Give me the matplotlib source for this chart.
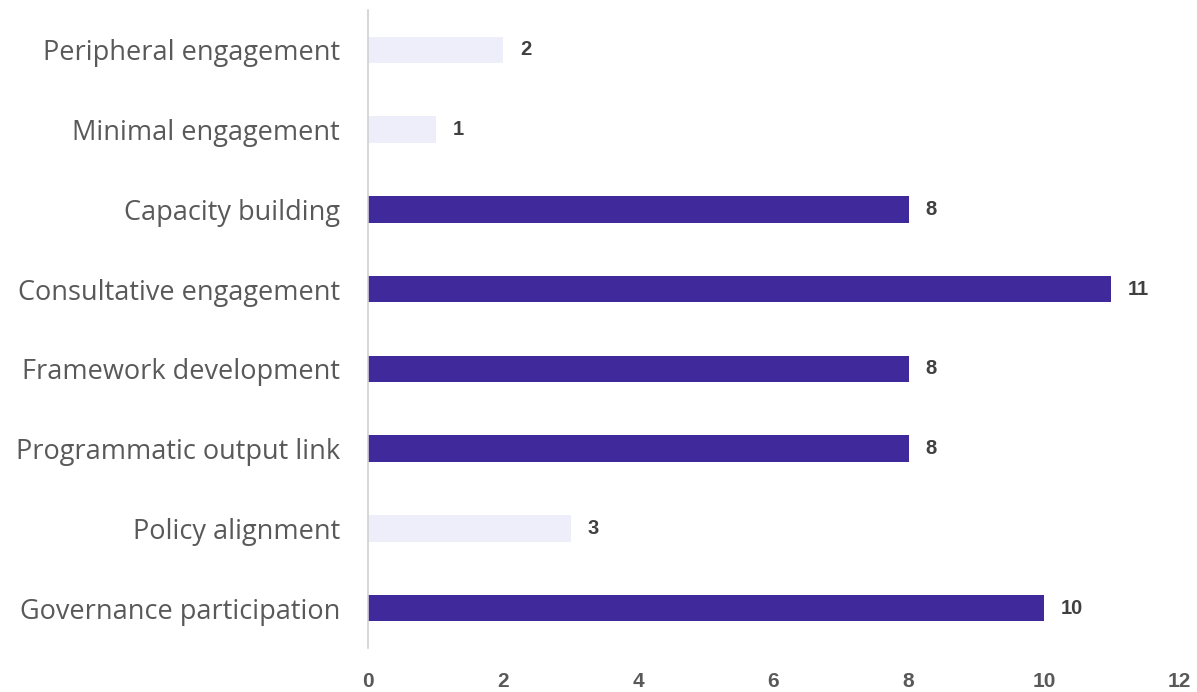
import matplotlib
matplotlib.use("Agg")
import matplotlib.pyplot as plt

categories = ["Governance participation", "Policy alignment", "Programmatic output link",
              "Framework development", "Consultative engagement", "Capacity building",
              "Minimal engagement", "Peripheral engagement"]
values = [10, 3, 8, 8, 11, 8, 1, 2]
highlight = [True, False, True, True, True, True, False, False]
xticks = [0, 2, 4, 6, 8, 10, 12]

dark = "#402A9B"
light = "#EEEDFA"

plt.rcParams['font.family'] = ['Open Sans', 'DejaVu Sans']

fig = plt.figure(figsize=(11.97, 6.92), dpi=100)
ax = fig.add_axes([368/1197, 1-648/692, (1179-368)/1197, (648-10)/692])

colors = [dark if h else light for h in highlight]
ypos = list(range(len(categories)))
ax.barh(ypos, values, height=0.33, color=colors)

for y, v in zip(ypos, values):
    ax.annotate(str(v), (v, y), xytext=(12, 0), textcoords="offset points",
                va="center", ha="left", fontsize=14.5, fontweight="bold", color="#404040",
                family=["Liberation Sans", "DejaVu Sans"])

ax.set_xlim(0, 12)
ax.set_ylim(-0.5, 7.5)
ax.set_yticks(ypos)
ax.set_yticklabels(categories, fontsize=19.5, color="#595959")
ax.set_xticks(xticks)
ax.set_xticklabels([str(t) for t in xticks], fontsize=15, fontweight="bold", color="#595959",
                   family=["Liberation Sans", "DejaVu Sans"])
ax.tick_params(axis="y", length=0, pad=20)
ax.tick_params(axis="x", length=0, pad=17)
for s in ["top", "right", "bottom"]:
    ax.spines[s].set_visible(False)
ax.spines["left"].set_color("#D0D0D0")
ax.spines["left"].set_linewidth(1.2)

fig.savefig("out.png", dpi=100)
